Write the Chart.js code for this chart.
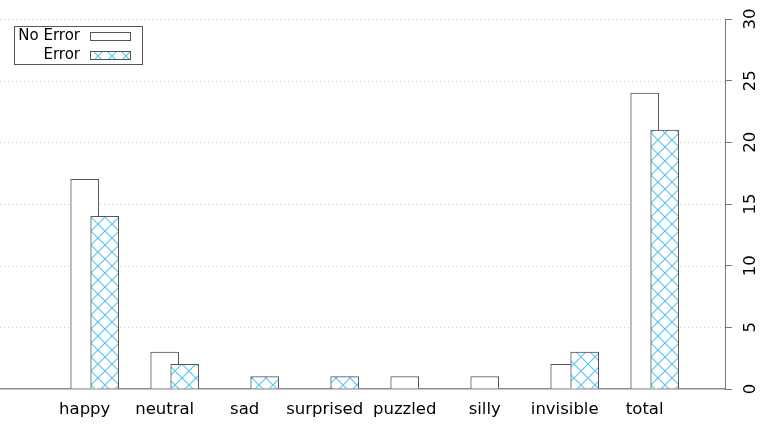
<!DOCTYPE html>
<html>
<head>
<meta charset="utf-8">
<script src="https://cdn.jsdelivr.net/npm/chart.js@4.4.1/dist/chart.umd.min.js"></script>
<style>
  html, body { margin: 0; padding: 0; background: #fff; }
</style>
</head>
<body>
<canvas id="myChart" width="763" height="424"></canvas>
<script>
const categories = ["happy", "neutral", "sad", "surprised", "puzzled", "silly", "invisible", "total"];
const noErrorCounts = [17, 3, 0, 0, 1, 1, 2, 24];
const errorCounts = [14, 2, 1, 1, 0, 0, 3, 21];
const yTicks = [0, 5, 10, 15, 20, 25, 30];
const seriesNames = ["No Error", "Error"];

const FONT = "DejaVu Sans";
const ctx = document.getElementById("myChart").getContext("2d");

// cross hatch fill for the "Error" bars
function makeHatch() {
  const s = 14;
  const c = document.createElement("canvas");
  c.width = s;
  c.height = s;
  const p = c.getContext("2d");
  p.fillStyle = "#fff";
  p.fillRect(0, 0, s, s);
  p.strokeStyle = "#5cc8ef";
  p.lineWidth = 1.2;
  p.beginPath();
  p.moveTo(-1, -1); p.lineTo(s + 1, s + 1);
  p.moveTo(-1, s + 1); p.lineTo(s + 1, -1);
  p.stroke();
  return ctx.createPattern(c, "repeat");
}
const hatch = makeHatch();

// dotted horizontal grid lines
const dottedGrid = {
  id: "dottedGrid",
  beforeDatasetsDraw(chart) {
    const { ctx, chartArea, scales } = chart;
    ctx.save();
    ctx.strokeStyle = "#cfcfcf";
    ctx.lineWidth = 1;
    ctx.setLineDash([1, 3]);
    yTicks.forEach((v) => {
      if (v === 0) return;
      const y = Math.round(scales.y.getPixelForValue(v)) + 0.5;
      ctx.beginPath();
      ctx.moveTo(chartArea.left, y);
      ctx.lineTo(chartArea.right, y);
      ctx.stroke();
    });
    ctx.restore();
  },
};

// rotated right-axis labels + legend box
const extras = {
  id: "extras",
  afterDraw(chart) {
    const { ctx, chartArea, scales } = chart;
    ctx.save();
    ctx.fillStyle = "#000";
    ctx.font = `16.5px '${FONT}'`;
    ctx.textAlign = "center";
    ctx.textBaseline = "middle";
    yTicks.forEach((v) => {
      const y = scales.y.getPixelForValue(v);
      ctx.save();
      ctx.translate(chartArea.right + 26, y);
      ctx.rotate(-Math.PI / 2);
      ctx.fillText(String(v), 0, 0);
      ctx.restore();
    });

    // legend
    ctx.fillStyle = "#fff";
    ctx.fillRect(14, 26, 128, 39);
    ctx.strokeStyle = "#555";
    ctx.lineWidth = 1;
    ctx.strokeRect(14.5, 26.5, 128, 38);
    ctx.font = `15px '${FONT}'`;
    ctx.fillStyle = "#000";
    ctx.textAlign = "right";
    ctx.fillText(seriesNames[0], 80, 36);
    ctx.fillText(seriesNames[1], 80, 55);
    ctx.strokeStyle = "#555";
    ctx.fillStyle = "#fff";
    ctx.fillRect(90.5, 32.5, 40, 8);
    ctx.strokeRect(90.5, 32.5, 40, 8);
    ctx.fillStyle = hatch;
    ctx.fillRect(90.5, 51.5, 40, 8);
    ctx.strokeRect(90.5, 51.5, 40, 8);
    ctx.restore();
  },
};

new Chart(ctx, {
  type: "bar",
  data: {
    datasets: [
      {
        label: seriesNames[0],
        data: noErrorCounts.map((v, i) => ({ x: i, y: v })),
        backgroundColor: "#fff",
        borderColor: "#555",
        borderWidth: 1,
        order: 1,
      },
      {
        label: seriesNames[1],
        data: errorCounts.map((v, i) => ({ x: i + 0.25, y: v })),
        backgroundColor: hatch,
        borderColor: "#555",
        borderWidth: 1,
        order: 0,
      },
    ],
  },
  options: {
    responsive: false,
    animation: false,
    grouped: false,
    barThickness: 28,
    layout: { padding: { top: 19, left: 0, right: 0, bottom: 0 } },
    plugins: { legend: { display: false }, tooltip: { enabled: false } },
    scales: {
      x: {
        type: "linear",
        offset: false,
        min: -1.0587,
        max: 8.0037,
        grid: { display: false, drawTicks: false },
        border: { color: "#8c8c8c", width: 1.5 },
        afterBuildTicks: (scale) => {
          scale.ticks = categories.map((c, i) => ({ value: i }));
        },
        afterFit: (scale) => {
          scale.height = 35;
        },
        ticks: {
          padding: 11,
          autoSkip: false,
          maxRotation: 0,
          color: "#000",
          font: { family: FONT, size: 16.5 },
          callback: (v) => categories[v] ?? "",
        },
      },
      y: {
        position: "right",
        min: 0,
        max: 30,
        ticks: { display: false, stepSize: 5 },
        grid: { drawOnChartArea: false, drawTicks: true, tickLength: 7, color: "#777" },
        border: { color: "#777", width: 1 },
        afterFit: (scale) => {
          scale.width = 38;
        },
      },
    },
  },
  plugins: [dottedGrid, extras],
});
</script>
</body>
</html>
